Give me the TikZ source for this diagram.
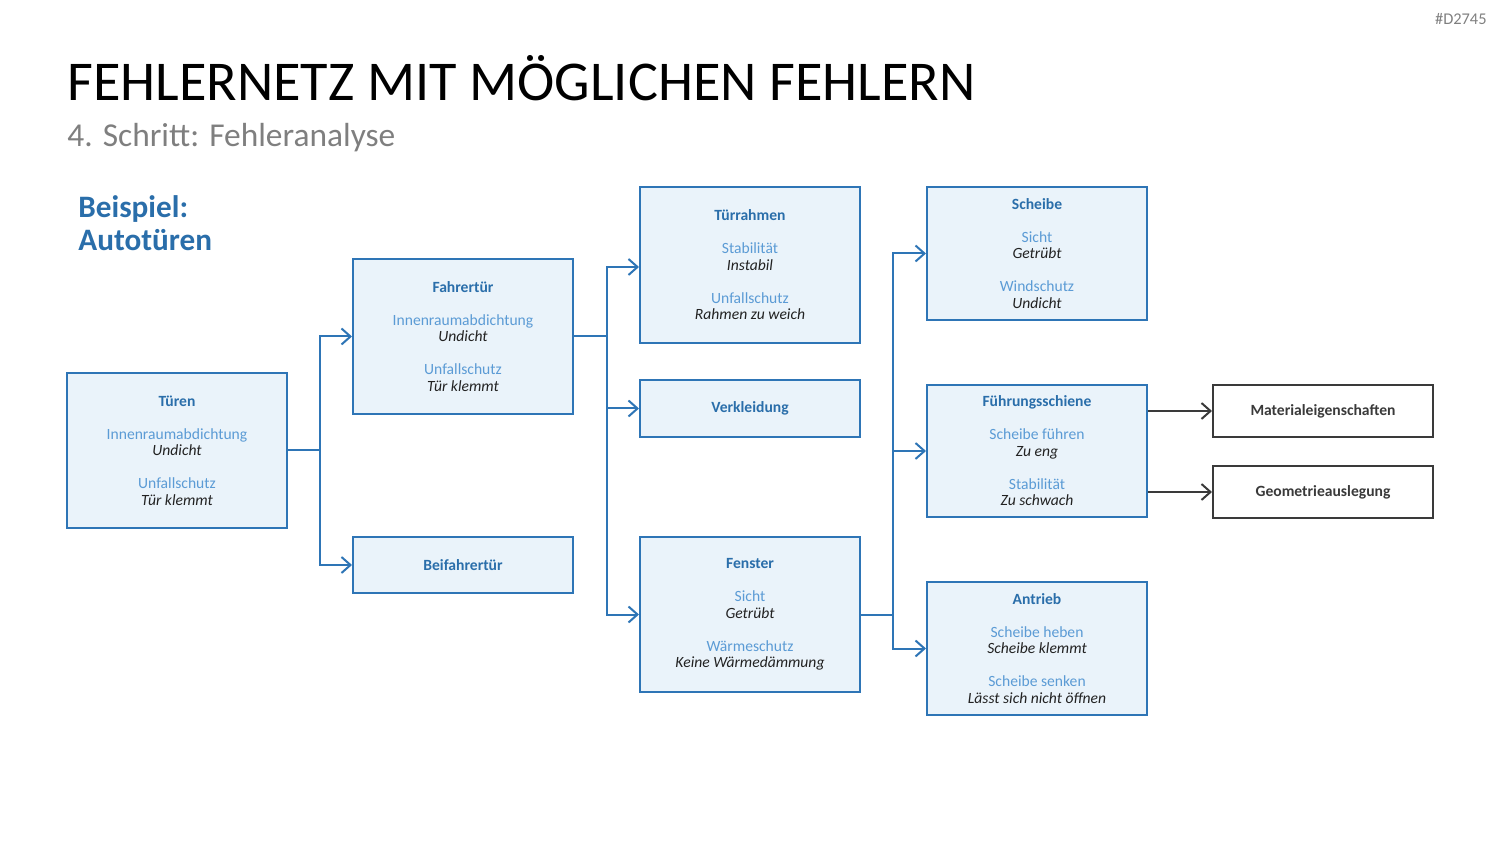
\documentclass[tikz,border=0pt]{standalone}
\usepackage{fontspec}
\setmainfont{Carlito}
\usetikzlibrary{arrows.meta}
\definecolor{boxc}{HTML}{2E75B6}
\definecolor{fillc}{HTML}{EAF3FA}
\definecolor{headc}{HTML}{2A6EAA}
\definecolor{lblc}{HTML}{5B9BD5}
\definecolor{errc}{HTML}{222222}
\definecolor{grayc}{HTML}{3A3A3A}
\definecolor{subc}{HTML}{7F7F7F}
\newcommand{\boxhead}[1]{\textbf{\color{headc}#1}}
\newcommand{\boxlbl}[1]{{\color{lblc}#1}}
\newcommand{\boxerr}[1]{{\color{errc}\itshape #1}}
\tikzset{
  box/.style={draw=boxc, fill=fillc, line width=1pt, minimum width=110pt, align=center, inner sep=0pt, font=\fontsize{7.8}{8.25}\selectfont},
  graybox/.style={draw=grayc, fill=white, line width=1pt, minimum width=110pt, minimum height=26pt, align=center, inner sep=0pt, font=\fontsize{7.8}{8.25}\selectfont\bfseries, text=grayc},
  conn/.style={draw=boxc, line width=1pt},
  arr/.style={conn, -{Straight Barb[length=4.5pt,width=8pt,line width=1pt]}},
  grayarr/.style={draw=grayc, line width=1pt, -{Straight Barb[length=4.5pt,width=8pt,line width=1pt]}}
}
\begin{document}
\begin{tikzpicture}[x=0.5pt,y=-0.5pt]
\useasboundingbox (0,0) rectangle (1500,844);
% header
\node[anchor=base west, inner sep=0pt, font=\fontsize{28.1}{30}\selectfont] (title) at (67,101) {FEHLERNETZ MIT MÖGLICHEN FEHLERN};
\node[anchor=base west, inner sep=0pt, font=\fontsize{16.7}{19}\selectfont, text=subc] (sub) at (67,147) {4. Schritt: Fehleranalyse};
\node[anchor=base west, inner sep=0pt, font=\fontsize{15.6}{17}\selectfont\bfseries, text=headc, align=left] (bsp) at (78,218) {Beispiel:};
\node[anchor=base west, inner sep=0pt, font=\fontsize{15.6}{17}\selectfont\bfseries, text=headc, align=left] (auto) at (78,251) {Autotüren};
\node[anchor=base east, inner sep=0pt, font=\fontsize{8.2}{9}\selectfont, text=subc] (id) at (1487,25) {\#D2745};
% boxes
\node[box, minimum height=77.5pt] (tueren) at (177,450.5) {\boxhead{Türen}\\[8.25pt]\boxlbl{Innenraumabdichtung}\\\boxerr{Undicht}\\[8.25pt]\boxlbl{Unfallschutz}\\\boxerr{Tür klemmt}};
\node[box, minimum height=77.5pt] (fahrer) at (463,336.5) {\boxhead{Fahrertür}\\[8.25pt]\boxlbl{Innenraumabdichtung}\\\boxerr{Undicht}\\[8.25pt]\boxlbl{Unfallschutz}\\\boxerr{Tür klemmt}};
\node[box, minimum height=28pt] (beifahrer) at (463,565) {\boxhead{Beifahrertür}};
\node[box, minimum height=78pt] (rahmen) at (750,265) {\boxhead{Türrahmen}\\[8.25pt]\boxlbl{Stabilität}\\\boxerr{Instabil}\\[8.25pt]\boxlbl{Unfallschutz}\\\boxerr{Rahmen zu weich}};
\node[box, minimum height=28.5pt] (verkl) at (750,408.5) {\boxhead{Verkleidung}};
\node[box, minimum height=77.5pt] (fenster) at (750,614.5) {\boxhead{Fenster}\\[8.25pt]\boxlbl{Sicht}\\\boxerr{Getrübt}\\[8.25pt]\boxlbl{Wärmeschutz}\\\boxerr{Keine Wärmedämmung}};
\node[box, minimum height=66.5pt] (scheibe) at (1037,253.5) {\boxhead{Scheibe}\\[8.25pt]\boxlbl{Sicht}\\\boxerr{Getrübt}\\[8.25pt]\boxlbl{Windschutz}\\\boxerr{Undicht}};
\node[box, minimum height=66pt] (fuehr) at (1037,451) {\boxhead{Führungsschiene}\\[8.25pt]\boxlbl{Scheibe führen}\\\boxerr{Zu eng}\\[8.25pt]\boxlbl{Stabilität}\\\boxerr{Zu schwach}};
\node[box, minimum height=66.5pt] (antrieb) at (1037,648.5) {\boxhead{Antrieb}\\[8.25pt]\boxlbl{Scheibe heben}\\\boxerr{Scheibe klemmt}\\[8.25pt]\boxlbl{Scheibe senken}\\\boxerr{Lässt sich nicht öffnen}};
\node[graybox] (mat) at (1323,411) {Materialeigenschaften};
\node[graybox] (geo) at (1323,492) {Geometrieauslegung};
% connectors
\coordinate (j1) at (320,450.5);
\coordinate (j2) at (607,336.5);
\coordinate (j3) at (893,614.5);
\draw[conn] (tueren.east) -- (j1);
\draw[arr] (j1) |- (fahrer.west);
\draw[arr] (j1) |- (beifahrer.west);
\draw[conn] (fahrer.east) -- (j2);
\draw[arr] (j2) |- ([yshift=-1pt]rahmen.west);
\draw[arr] (j2) |- (verkl.west);
\draw[arr] (j2) |- (fenster.west);
\draw[conn] (fenster.east) -- (j3);
\draw[arr] (j3) |- (scheibe.west);
\draw[arr] (j3) |- (fuehr.west);
\draw[arr] (j3) |- (antrieb.west);
\draw[grayarr] (fuehr.east |- mat.west) -- (mat.west);
\draw[grayarr] (fuehr.east |- geo.west) -- (geo.west);
\end{tikzpicture}
\end{document}
